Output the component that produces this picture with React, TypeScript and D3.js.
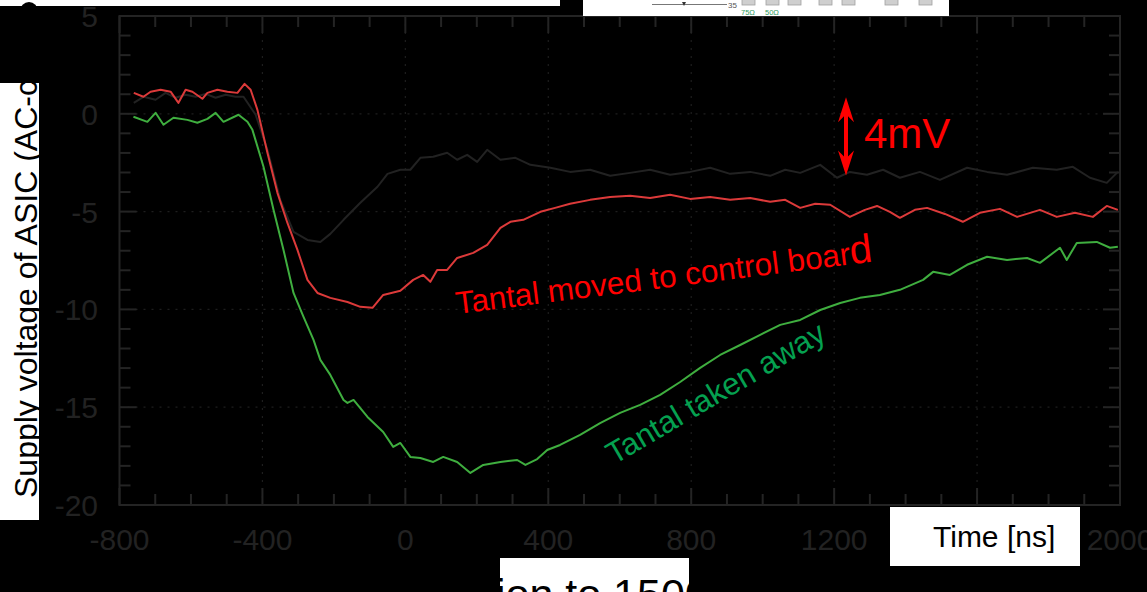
import React from "react";
import * as d3 from "d3";

// ---- data (time in ns, voltage in mV) ----
const redTime = [-760,-733,-713,-685,-657,-635,-615,-596,-568,-554,-526,-498,-470,-450,-433,-414,-386,-358,-330,-302,-274,-246,-210,-162,-126,-92,-62,-14,22,50,70,89,117,145,190,229,266,294,330,378,419,461,517,573,629,685,741,797,853,909,965,1021,1063,1105,1147,1189,1244,1286,1320,1356,1384,1426,1460,1510,1560,1608,1664,1712,1776,1823,1874,1924,1963,1994];
const redVolt = [1.07,0.87,1.13,1.23,1.13,0.56,1.23,1.13,0.77,1.07,1.23,1.13,1.07,1.53,1.23,0.20,-1.99,-4.04,-5.58,-6.96,-8.49,-9.16,-9.41,-9.62,-9.87,-9.92,-9.26,-9.05,-8.49,-8.24,-8.59,-7.98,-7.98,-7.37,-7.11,-6.70,-5.83,-5.52,-5.42,-5.01,-4.81,-4.60,-4.40,-4.25,-4.19,-4.30,-4.14,-4.35,-4.25,-4.40,-4.30,-4.50,-4.40,-4.81,-4.60,-4.65,-5.27,-4.91,-4.71,-5.01,-5.32,-4.91,-4.81,-5.12,-5.52,-5.06,-4.86,-5.27,-4.91,-5.27,-5.06,-5.27,-4.71,-4.91];

const blackTime = [-760,-733,-699,-671,-643,-615,-587,-559,-531,-503,-475,-453,-419,-386,-350,-313,-274,-238,-210,-173,-126,-78,-50,-14,14,42,78,117,145,173,201,229,266,308,350,406,461,517,573,629,685,741,797,853,909,965,1021,1063,1105,1161,1208,1244,1292,1337,1384,1440,1496,1572,1628,1684,1756,1823,1868,1916,1963,1994];
const blackVolt = [0.56,0.87,0.72,1.07,0.82,0.97,0.87,1.02,0.82,0.97,0.87,0.87,-0.05,-1.84,-4.40,-6.04,-6.45,-6.55,-6.14,-5.42,-4.55,-3.73,-3.07,-2.86,-2.86,-2.25,-2.20,-1.99,-2.35,-2.10,-2.46,-1.84,-2.35,-2.25,-2.61,-2.76,-2.97,-2.86,-3.17,-3.02,-2.86,-3.12,-2.97,-2.76,-3.07,-2.97,-3.17,-2.86,-3.02,-2.61,-3.27,-2.97,-3.12,-2.86,-3.27,-2.97,-3.38,-2.76,-2.97,-3.12,-2.76,-2.86,-2.71,-3.27,-3.53,-2.97];

const greenTime = [-761,-722,-699,-677,-649,-610,-582,-554,-531,-509,-467,-442,-428,-397,-369,-341,-313,-285,-257,-238,-210,-173,-162,-145,-106,-62,-34,-14,14,42,78,106,145,182,218,266,313,336,369,397,433,489,545,601,657,713,769,825,881,937,993,1049,1105,1161,1217,1272,1328,1384,1449,1477,1524,1572,1628,1684,1740,1776,1832,1851,1879,1935,1972,1994];
const greenVolt = [-0.15,-0.41,0.05,-0.56,-0.20,-0.31,-0.46,-0.26,0.05,-0.41,-0.05,-0.41,-0.82,-2.71,-4.91,-6.96,-9.16,-10.38,-11.56,-12.58,-13.35,-14.63,-14.78,-14.63,-15.50,-16.27,-17.03,-16.83,-17.54,-17.60,-17.80,-17.54,-17.80,-18.36,-17.95,-17.80,-17.70,-17.95,-17.65,-17.19,-16.93,-16.42,-15.81,-15.29,-14.88,-14.37,-13.71,-12.99,-12.33,-11.82,-11.30,-10.79,-10.54,-10.03,-9.67,-9.41,-9.26,-9.00,-8.49,-8.08,-8.24,-7.72,-7.31,-7.47,-7.37,-7.62,-6.85,-7.47,-6.60,-6.55,-6.85,-6.80];

const xMajorTicks = [-800, -400, 0, 400, 800, 1200, 1600, 2000];
const yMajorTicks = [5, 0, -5, -10, -15, -20];
const xDomain = [-800, 2000];
const yDomain = [5, -20];

const redLabel = "Tantal moved to control boar";
const redLabelEnd = "d";
const greenLabel = "Tantal taken away";
const scaleLabel = "4mV";
const xTitle = "Time [ns]";
const yTitle = "Supply voltage of ASIC (AC-coupled) [mV]";
const bottomText = "tion to 1500 ns";

const FONT = "'Liberation Sans', Arial, Helvetica, sans-serif";

export default function App() {
  const x = d3.scaleLinear().domain(xDomain).range([119.5, 1120]);
  const y = d3.scaleLinear().domain(yDomain).range([16, 505]);
  const [x0, x1] = x.range();
  const [yTop, yBot] = y.range();

  const line = d3
    .line<[number, number]>()
    .x((d) => x(d[0]))
    .y((d) => y(d[1]));
  const mk = (t: number[], v: number[]) => t.map((tt, i) => [tt, v[i]] as [number, number]);

  const xMinor = d3.range(xDomain[0], xDomain[1] + 1, 100).filter((t) => !xMajorTicks.includes(t));
  const yMinor = d3.range(-20, 5.5, 1).filter((v) => !yMajorTicks.includes(v));

  const axisCol = "#242424";
  const gridCol = "#1e1e1e";
  const labCol = "#222";
  const MAJ = 17;
  const MIN = 11;

  // arrow geometry for 4 mV marker
  const ax = 846;
  const aTop = y(0.85);
  const aBot = aTop + (y(0) - y(4));
  const arrowPath = `M${ax},${aTop} L${ax + 8},${aTop + 25} L${ax + 2},${aTop + 19} L${ax + 2},${aBot - 19} L${ax + 8},${aBot - 25} L${ax},${aBot} L${ax - 8},${aBot - 25} L${ax - 2},${aBot - 19} L${ax - 2},${aTop + 19} L${ax - 8},${aTop + 25} Z`;

  const boxRects = [742, 766, 788, 819, 842, 885, 919];

  return (
    <svg
      width={1147}
      height={592}
      style={{ position: "absolute", left: 0, top: 0, background: "#000", display: "block" }}
      fontFamily={FONT}
    >
      <rect x={0} y={0} width={1147} height={592} fill="#000" />
      <defs>
        <clipPath id="ylab">
          <rect x={0} y={83} width={39} height={437} />
        </clipPath>
        <clipPath id="bot">
          <rect x={500} y={558} width={189} height={34} />
        </clipPath>
      </defs>

      {/* grid */}
      {xMajorTicks.slice(1, -1).map((t) => (
        <line key={"gx" + t} x1={x(t)} x2={x(t)} y1={yTop} y2={yBot} stroke={gridCol} strokeWidth={1.2} strokeDasharray="2,6" />
      ))}
      {yMajorTicks.slice(1, -1).map((v) => (
        <line key={"gy" + v} x1={x0} x2={x1} y1={y(v)} y2={y(v)} stroke={gridCol} strokeWidth={1.2} strokeDasharray="2,6" />
      ))}

      {/* frame */}
      <rect x={x0} y={yTop} width={x1 - x0} height={yBot - yTop} fill="none" stroke={axisCol} strokeWidth={2} />

      {/* ticks */}
      {xMajorTicks.map((t) => (
        <g key={"xt" + t}>
          <line x1={x(t)} x2={x(t)} y1={yBot} y2={yBot - MAJ} stroke={axisCol} strokeWidth={2} />
          <line x1={x(t)} x2={x(t)} y1={yTop} y2={yTop + MAJ} stroke={axisCol} strokeWidth={2} />
        </g>
      ))}
      {xMinor.map((t) => (
        <g key={"xm" + t}>
          <line x1={x(t)} x2={x(t)} y1={yBot} y2={yBot - MIN} stroke={axisCol} strokeWidth={2} />
          <line x1={x(t)} x2={x(t)} y1={yTop} y2={yTop + MIN} stroke={axisCol} strokeWidth={2} />
        </g>
      ))}
      {yMajorTicks.map((v) => (
        <g key={"yt" + v}>
          <line x1={x0} x2={x0 + MAJ} y1={y(v)} y2={y(v)} stroke={axisCol} strokeWidth={2} />
          <line x1={x1} x2={x1 - MAJ} y1={y(v)} y2={y(v)} stroke={axisCol} strokeWidth={2} />
        </g>
      ))}
      {yMinor.map((v) => (
        <g key={"ym" + v}>
          <line x1={x0} x2={x0 + MIN} y1={y(v)} y2={y(v)} stroke={axisCol} strokeWidth={2} />
          <line x1={x1} x2={x1 - MIN} y1={y(v)} y2={y(v)} stroke={axisCol} strokeWidth={2} />
        </g>
      ))}

      {/* tick labels */}
      {xMajorTicks.map((t) => (
        <text key={"xl" + t} x={x(t)} y={550} fontSize={30} fill={labCol} textAnchor="middle">
          {t}
        </text>
      ))}
      {yMajorTicks.map((v) => (
        <text key={"yl" + v} x={98} y={y(v) + 11} fontSize={30} fill={labCol} textAnchor="end">
          {v}
        </text>
      ))}

      {/* series */}
      <g fill="none" strokeWidth={2} strokeLinejoin="round">
        <path d={line(mk(blackTime, blackVolt)) || ""} stroke="#222" />
        <path d={line(mk(greenTime, greenVolt)) || ""} stroke="#3fae3f" />
        <path d={line(mk(redTime, redVolt)) || ""} stroke="#dc3a3a" />
      </g>

      {/* annotations */}
      <path d={arrowPath} fill="#ff0000" />
      <text x={864} y={148} fontSize={42} fill="#ff0000">
        {scaleLabel}
      </text>
      <text transform="translate(457,314) rotate(-7.2)" fontSize={31.5} fill="#ff0000">
        {redLabel}
        <tspan fontSize={40}>{redLabelEnd}</tspan>
      </text>
      <text transform="translate(614,465) rotate(-30.5)" fontSize={31} fill="#05a050">
        {greenLabel}
      </text>

      {/* overlay boxes from the slide */}
      <rect x={0} y={0} width={560} height={6} fill="#fff" />
      <ellipse cx={29} cy={11} rx={9} ry={9} fill="#000" />

      <rect x={0} y={83} width={39} height={437} fill="#fff" />
      <g clipPath="url(#ylab)">
        <text transform="translate(37,498) rotate(-90)" fontSize={32} fill="#000">
          {yTitle}
        </text>
      </g>

      <rect x={583} y={0} width={366} height={16} fill="#fff" />
      <line x1={652} x2={727} y1={4.5} y2={4.5} stroke="#777" strokeWidth={1} />
      <path d="M682,2 L686,2 L684,6 Z" fill="#333" />
      <text x={728} y={8} fontSize={8} fill="#555">35</text>
      {boxRects.map((bx) => (
        <rect key={"br" + bx} x={bx} y={-1} width={13} height={6} fill="#cfcfcf" stroke="#a0a0a0" strokeWidth={0.8} />
      ))}
      <text x={748} y={15} fontSize={7.5} fill="#2f9a5f" textAnchor="middle">75Ω</text>
      <text x={772} y={15} fontSize={7.5} fill="#2f9a5f" textAnchor="middle">50Ω</text>

      <rect x={890} y={507} width={190} height={59} fill="#fff" />
      <text x={933} y={547} fontSize={30} fill="#000">
        {xTitle}
      </text>

      <rect x={500} y={558} width={189} height={34} fill="#fff" />
      <g clipPath="url(#bot)">
        <text x={484} y={609} fontSize={43} fill="#000">
          {bottomText}
        </text>
      </g>
    </svg>
  );
}
